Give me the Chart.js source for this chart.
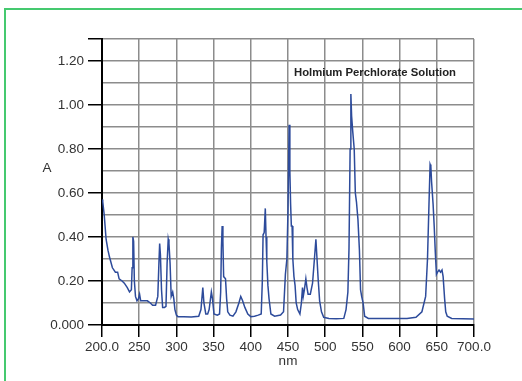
<!DOCTYPE html>
<html>
<head>
<meta charset="utf-8">
<script src="https://cdn.jsdelivr.net/npm/chart.js@4.4.0/dist/chart.umd.min.js"></script>
<style>
    html, body { margin: 0; padding: 0; background: #fff; overflow: hidden; }
    #wrap { position: relative; width: 522px; height: 381px; }
    #frame {
        position: absolute; left: 4px; top: 8px; width: 600px; height: 500px;
        border: 2px solid #45c96f; pointer-events: none;
    }
    canvas { position: absolute; left: 0; top: 0; }
</style>
</head>
<body>
<div id="wrap">
    <canvas id="specChart" width="522" height="381"></canvas>
    <div id="frame"></div>
</div>
<script>
// Holmium perchlorate absorbance spectrum
const wavelengths = [
    200, 201, 203, 205.5, 208, 210, 214, 218, 221, 223, 227, 230, 234, 237, 239.5, 240.5, 241.5, 242.5, 243.5, 245,
    247, 249, 250.5, 252, 256, 261, 265, 268, 272, 275, 276.5, 277.5, 278.5, 280, 281.5, 284, 286, 287.5, 289, 290,
    291.5, 293, 295, 296.5, 298, 300, 302, 310, 320, 330, 333, 335.5, 337, 339.5, 342, 344, 347, 348.5, 350.5, 355,
    358, 359.5, 360.5, 361.5, 362.5, 363.5, 366, 367.5, 369, 372, 376, 380, 384, 386.5, 389, 392, 396, 400, 405, 410,
    414, 415.5, 416.5, 418, 419.5, 420.5, 421.5, 423, 424.5, 427, 432, 440, 444, 446.5, 448.5, 450, 451.5, 452.5, 453.5, 454.5,
    455.5, 456.5, 458, 459.5, 461, 463, 466, 468, 469.5, 470.5, 472, 474, 475.5, 477, 480, 483, 485.5, 487.5, 489, 490.5,
    492.5, 495, 498, 505, 515, 525, 528, 530.5, 532, 533.5, 534.5, 535.5, 537, 539, 540.5, 542, 544, 546, 547.5, 549,
    551, 553, 558, 580, 610, 622, 630, 635, 637.5, 639.5, 641, 642, 643, 645, 646.5, 648, 649.5, 651, 653, 655,
    657, 658.5, 660.5, 662, 664, 670, 700
];
const absorbance = [
    0.57, 0.56, 0.50, 0.39, 0.34, 0.31, 0.26, 0.24, 0.24, 0.21, 0.20, 0.19, 0.17, 0.15, 0.16, 0.26, 0.40, 0.38, 0.20, 0.13,
    0.11, 0.12, 0.14, 0.11, 0.11, 0.11, 0.10, 0.09, 0.09, 0.13, 0.28, 0.37, 0.32, 0.16, 0.08, 0.08, 0.085, 0.28, 0.39, 0.37,
    0.28, 0.13, 0.15, 0.12, 0.07, 0.045, 0.038, 0.038, 0.036, 0.04, 0.07, 0.17, 0.10, 0.05, 0.05, 0.07, 0.15, 0.12, 0.05, 0.045,
    0.05, 0.15, 0.35, 0.45, 0.38, 0.22, 0.21, 0.12, 0.06, 0.045, 0.04, 0.06, 0.10, 0.13, 0.11, 0.08, 0.05, 0.038, 0.04, 0.045,
    0.05, 0.20, 0.41, 0.42, 0.53, 0.40, 0.29, 0.18, 0.12, 0.05, 0.04, 0.045, 0.06, 0.23, 0.30, 0.52, 0.91, 0.70, 0.55, 0.45,
    0.45, 0.30, 0.22, 0.18, 0.10, 0.07, 0.05, 0.10, 0.17, 0.13, 0.16, 0.21, 0.17, 0.14, 0.14, 0.19, 0.30, 0.39, 0.30, 0.21,
    0.11, 0.06, 0.035, 0.03, 0.028, 0.03, 0.07, 0.15, 0.35, 0.80, 1.05, 0.95, 0.88, 0.80, 0.60, 0.56, 0.48, 0.34, 0.16, 0.13,
    0.10, 0.04, 0.03, 0.03, 0.03, 0.035, 0.06, 0.13, 0.30, 0.55, 0.73, 0.72, 0.65, 0.55, 0.45, 0.33, 0.23, 0.24, 0.25, 0.24,
    0.25, 0.22, 0.12, 0.06, 0.04, 0.03, 0.027
];

const chartTitle = 'Holmium Perchlorate Solution';
const yAxisLabel = 'A';
const xAxisLabel = 'nm';

const points = wavelengths.map((w, i) => ({ x: w, y: absorbance[i] }));

const tickFont = { family: "'Liberation Sans', Arial, sans-serif", size: 13.5 };
const gridGrey = '#8c8c8c';

// draws the in-plot title and the unrotated "A" label
const textPlugin = {
    id: 'extraText',
    afterDraw(chart) {
        const c = chart.ctx;
        c.save();
        c.fillStyle = '#222';
        c.font = "bold 11.3px 'Liberation Sans', Arial, sans-serif";
        c.textBaseline = 'middle';
        c.textAlign = 'left';
        c.fillText(chartTitle, 294, 73);
        c.font = "13.5px 'Liberation Sans', Arial, sans-serif";
        c.fillStyle = '#333';
        c.textAlign = 'center';
        c.fillText(yAxisLabel, 47, 168);
        c.restore();
    }
};

new Chart(document.getElementById('specChart').getContext('2d'), {
    type: 'line',
    data: {
        datasets: [{
            data: points,
            borderColor: '#2d4b9b',
            borderWidth: 1.5,
            pointRadius: 0,
            tension: 0,
            fill: false
        }]
    },
    options: {
        responsive: false,
        animation: false,
        layout: { padding: { left: 0, top: 39, right: 48, bottom: 0 } },
        plugins: {
            legend: { display: false },
            tooltip: { enabled: false }
        },
        scales: {
            x: {
                type: 'linear',
                min: 200,
                max: 700,
                afterFit: (scale) => { scale.height = 56; },
                ticks: {
                    stepSize: 50,
                    autoSkip: false,
                    maxRotation: 0,
                    padding: 2,
                    color: '#333',
                    font: tickFont,
                    callback: (v) => (v === 200 || v === 700) ? v.toFixed(1) : String(v)
                },
                grid: {
                    color: gridGrey,
                    lineWidth: 1.5,
                    tickLength: 12,
                    tickColor: '#000',
                    tickWidth: 1.5
                },
                border: { color: '#000', width: 2 },
                title: {
                    display: true,
                    text: xAxisLabel,
                    color: '#333',
                    font: tickFont,
                    padding: { top: 0, bottom: 12 }
                }
            },
            y: {
                min: 0,
                max: 1.3,
                afterFit: (scale) => { scale.width = 102; },
                ticks: {
                    stepSize: 0.1,
                    autoSkip: false,
                    padding: 4,
                    color: '#333',
                    font: tickFont,
                    callback: (v) => {
                        const n = Math.round(v * 10);
                        if (n === 0) return '0.000';
                        return (n % 2 === 0) ? (n / 10).toFixed(2) : '';
                    }
                },
                grid: {
                    color: gridGrey,
                    lineWidth: 1.5,
                    tickLength: 14,
                    tickWidth: 1.5,
                    tickColor: (ctx) => {
                        const n = ctx.tick ? Math.round(ctx.tick.value * 10) : 0;
                        return (n % 2 === 0 || n === 13) ? '#000' : 'rgba(0,0,0,0)';
                    }
                },
                border: { color: '#000', width: 2 }
            }
        }
    },
    plugins: [textPlugin]
});
</script>
</body>
</html>
